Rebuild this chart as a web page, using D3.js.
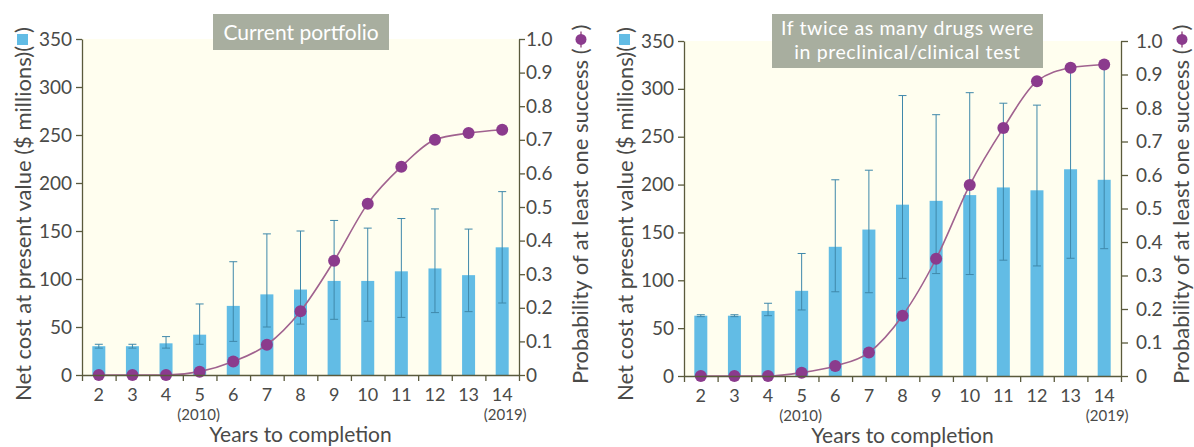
<!DOCTYPE html>
<html>
<head>
<meta charset="utf-8">
<script src="https://cdn.jsdelivr.net/npm/d3@7"></script>
<style>
  html, body { margin: 0; padding: 0; background: #ffffff; }
  svg { display: block; }
  text { font-family: "Lato", "Open Sans", sans-serif; fill: #4a4a48; }
</style>
</head>
<body>
<svg id="chart" width="1194" height="447"></svg>
<script>
// Years to completion (x categories) and the calendar-year notes under two of them
const years = [2, 3, 4, 5, 6, 7, 8, 9, 10, 11, 12, 13, 14];
const noteYears = [5, 14];
const noteLabels = ["(2010)", "(2019)"];

// Current portfolio: net cost ($ millions) with error range, and probability of success
const currentCost = [30, 30, 33, 42, 72, 84, 89, 98, 98, 108, 111, 104, 133];
const currentLow  = [28, 28, 28, 32, 35, 50, 53, 58, 56, 60, 65, 66, 75];
const currentHigh = [32, 32, 40, 74, 118, 147, 150, 161, 153, 163, 173, 152, 191];
const currentProb = [0, 0, 0, 0.01, 0.04, 0.09, 0.19, 0.34, 0.51, 0.62, 0.70, 0.72, 0.73];

// Twice as many drugs in preclinical/clinical test
const doubledCost = [63, 63, 68, 89, 135, 153, 179, 183, 189, 197, 194, 216, 205];
const doubledLow  = [62, 62, 63, 69, 88, 87, 102, 107, 106, 121, 115, 123, 133];
const doubledHigh = [64, 64, 76, 128, 205, 215, 293, 273, 296, 285, 283, 322, 325];
const doubledProb = [0, 0, 0, 0.01, 0.03, 0.07, 0.18, 0.35, 0.57, 0.74, 0.88, 0.92, 0.93];

// Axis ticks
const costTicks = [0, 50, 100, 150, 200, 250, 300, 350];
const probTicks = [0, 0.1, 0.2, 0.3, 0.4, 0.5, 0.6, 0.7, 0.8, 0.9, 1.0];

// Panel headings
const currentTitle = ["Current portfolio"];
const doubledTitle = ["If twice as many drugs were", "in preclinical/clinical test"];

const xTitle = "Years to completion";
const costTitle = "Net cost at present value ($ millions)(";
const probTitle = "Probability of at least one success (";

const BAR = "#62bce5";
const ERR = "#3f88aa";
const LINE = "#a0628f";
const DOT = "#8b3b8d";
const AXIS = "#5a5a3c";
const BOX = "#a8ae9f";
const FONT = "Lato, 'Open Sans', sans-serif";

const svg = d3.select("#chart");

function drawPanel(cfg) {
  const g = svg.append("g");
  const { x0, x1, top, bottom } = cfg;

  const x = d3.scaleBand().domain(years).range([x0, x1]).padding(0);
  const xEdge = d3.scaleLinear().domain([years[0] - 0.5, years[years.length - 1] + 0.5]).range([x0, x1]);
  const yCost = d3.scaleLinear().domain([0, 350]).range([bottom, top]);
  const yProb = d3.scaleLinear().domain([0, 1]).range([bottom, top]);
  const cx = d => x(d) + x.bandwidth() / 2;

  // plot background
  g.append("rect")
    .attr("x", x0).attr("y", top)
    .attr("width", x1 - x0).attr("height", bottom - top)
    .attr("fill", "#fffeef");

  const rows = years.map((yr, i) => ({
    yr, cost: cfg.cost[i], lo: cfg.low[i], hi: cfg.high[i], p: cfg.prob[i]
  }));

  // bars
  const bw = 13;
  g.selectAll("rect.bar").data(rows).join("rect")
    .attr("class", "bar")
    .attr("x", d => cx(d.yr) - bw / 2)
    .attr("width", bw)
    .attr("y", d => yCost(d.cost))
    .attr("height", d => yCost(0) - yCost(d.cost))
    .attr("fill", BAR);

  // error bars
  const eg = g.append("g").attr("stroke", ERR).attr("stroke-width", 1).attr("fill", "none");
  eg.selectAll("line.v").data(rows).join("line")
    .attr("x1", d => cx(d.yr)).attr("x2", d => cx(d.yr))
    .attr("y1", d => yCost(d.lo)).attr("y2", d => yCost(d.hi));
  eg.selectAll("line.t").data(rows).join("line")
    .attr("x1", d => cx(d.yr) - 4).attr("x2", d => cx(d.yr) + 4)
    .attr("y1", d => yCost(d.hi)).attr("y2", d => yCost(d.hi));
  eg.selectAll("line.b").data(rows).join("line")
    .attr("x1", d => cx(d.yr) - 4).attr("x2", d => cx(d.yr) + 4)
    .attr("y1", d => yCost(d.lo)).attr("y2", d => yCost(d.lo));

  // probability curve
  const line = d3.line().x(d => cx(d.yr)).y(d => yProb(d.p)).curve(d3.curveMonotoneX);
  g.append("path").datum(rows)
    .attr("d", line)
    .attr("fill", "none")
    .attr("stroke", LINE)
    .attr("stroke-width", 1.6);
  g.selectAll("circle.pt").data(rows).join("circle")
    .attr("cx", d => cx(d.yr)).attr("cy", d => yProb(d.p))
    .attr("r", 6).attr("fill", DOT);

  // axes
  const styleAxis = (size) => sel => {
    sel.selectAll("path, line").attr("stroke", AXIS).attr("stroke-width", 1.3);
    sel.selectAll("text").attr("fill", "#4a4a48").style("font-size", size).style("font-family", FONT);
  };

  g.append("g").attr("transform", `translate(${x0},0)`)
    .call(d3.axisLeft(yCost).tickValues(costTicks).tickSize(6).tickSizeOuter(0).tickPadding(4).tickFormat(d3.format("d")))
    .call(styleAxis("19px"));

  g.append("g").attr("transform", `translate(${x1},0)`)
    .call(d3.axisRight(yProb).tickValues(probTicks).tickSize(cfg.rTick).tickSizeOuter(0)
      .tickPadding(cfg.rPad).tickFormat(d => d === 0 ? "0" : d3.format(".1f")(d)))
    .call(styleAxis("19px"));

  // boundary ticks along the bottom
  g.append("g").attr("transform", `translate(0,${bottom})`)
    .call(d3.axisBottom(xEdge).tickValues(d3.range(years[0] - 0.5, years[years.length - 1] + 1, 1))
      .tickSize(6).tickSizeOuter(0).tickFormat(""))
    .call(styleAxis("19px"));

  // year labels
  g.append("g").attr("transform", `translate(0,${bottom})`)
    .call(d3.axisBottom(x).tickSize(0).tickPadding(13))
    .call(sel => sel.select(".domain").remove())
    .call(styleAxis("18px"));

  g.selectAll("text.note").data(noteYears).join("text")
    .attr("class", "note")
    .attr("x", (d, i) => cx(d) + (i === 1 ? 3 : -1))
    .attr("y", bottom + 45)
    .attr("text-anchor", "middle")
    .style("font-size", "15px")
    .text((d, i) => noteLabels[i]);

  g.append("text")
    .attr("x", (x0 + x1) / 2).attr("y", bottom + 67)
    .attr("text-anchor", "middle")
    .style("font-size", "21px")
    .text(xTitle);

  // left axis title with bar swatch
  const lt = g.append("g").attr("transform", `translate(${cfg.ltX},${cfg.ltY}) rotate(-90)`);
  const ltText = lt.append("text").attr("x", 0).attr("y", 0).style("font-size", "22px").text(costTitle);
  const ltLen = ltText.node().getComputedTextLength();
  lt.append("rect").attr("x", ltLen + 1).attr("y", -14).attr("width", 11).attr("height", 11).attr("fill", BAR);
  lt.append("text").attr("x", ltLen + 13).attr("y", 0).style("font-size", "22px").text(")");

  // right axis title with line-and-dot key
  const rt = g.append("g").attr("transform", `translate(${cfg.rtX},${cfg.rtY}) rotate(-90)`);
  const rtText = rt.append("text").attr("x", 0).attr("y", 0).style("font-size", "22px").text(probTitle);
  const rtLen = rtText.node().getComputedTextLength();
  rt.append("line").attr("x1", rtLen + 1).attr("x2", rtLen + 17).attr("y1", -7).attr("y2", -7)
    .attr("stroke", LINE).attr("stroke-width", 1.6);
  rt.append("circle").attr("cx", rtLen + 9).attr("cy", -7).attr("r", 5.5).attr("fill", DOT);
  rt.append("text").attr("x", rtLen + 18).attr("y", 0).style("font-size", "22px").text(")");

  // heading box
  const lines = cfg.title;
  const tg = g.append("g");
  tg.append("rect")
    .attr("x", cfg.box[0]).attr("y", cfg.box[1])
    .attr("width", cfg.box[2]).attr("height", cfg.box[3])
    .attr("fill", BOX);
  tg.selectAll("text").data(lines).join("text")
    .attr("x", cfg.box[0] + cfg.box[2] / 2)
    .attr("y", (d, i) => cfg.box[1] + cfg.titleY0 + i * 24)
    .attr("text-anchor", "middle")
    .style("font-size", cfg.titleSize)
    .style("letter-spacing", cfg.titleSpacing)
    .style("fill", "#ffffff")
    .text(d => d);
}

drawPanel({
  x0: 82, x1: 519, top: 39, bottom: 375,
  cost: currentCost, low: currentLow, high: currentHigh, prob: currentProb,
  rTick: 6, rPad: 1,
  ltX: 31, ltY: 401, rtX: 588, rtY: 384,
  title: currentTitle, box: [213, 14, 176, 36], titleY0: 26,
  titleSize: "21px", titleSpacing: "0px"
});

drawPanel({
  x0: 684, x1: 1121, top: 41, bottom: 376,
  cost: doubledCost, low: doubledLow, high: doubledHigh, prob: doubledProb,
  rTick: 7, rPad: 8,
  ltX: 633, ltY: 401, rtX: 1189, rtY: 384,
  title: doubledTitle, box: [772, 14, 271, 54], titleY0: 21,
  titleSize: "19.5px", titleSpacing: "0.6px"
});
</script>
</body>
</html>
